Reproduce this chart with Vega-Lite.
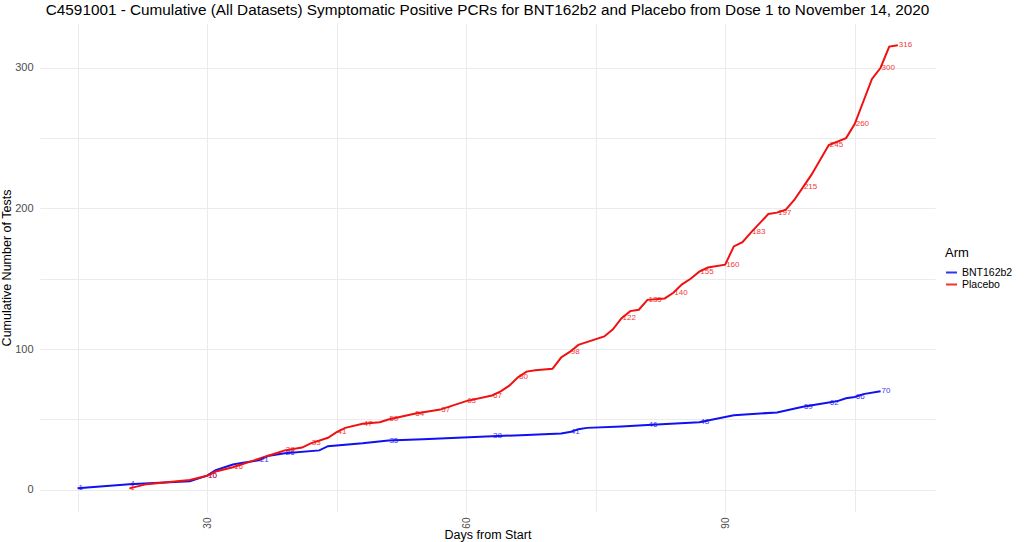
{
  "$schema": "https://vega.github.io/schema/vega-lite/v6.json",
  "width": 895,
  "height": 489,
  "autosize": {"type": "none"},
  "padding": {"left": 40, "top": 23, "right": 89, "bottom": 30},
  "config": {"view": {"stroke": null}, "font": "Liberation Sans"},
  "title": {
    "text": "C4591001 - Cumulative (All Datasets) Symptomatic Positive PCRs for BNT162b2 and Placebo from Dose 1 to November 14, 2020",
    "fontSize": 15.3,
    "fontWeight": "normal",
    "font": "Liberation Sans",
    "color": "#000000",
    "anchor": "middle",
    "frame": "group",
    "offset": 5
  },
  "data": {
    "values": [
      {"arm": "BNT162b2", "day": 15, "n": 1, "lab": "1"},
      {"arm": "BNT162b2", "day": 21, "n": 4, "lab": "4"},
      {"arm": "BNT162b2", "day": 28, "n": 6, "lab": ""},
      {"arm": "BNT162b2", "day": 30, "n": 10, "lab": "10"},
      {"arm": "BNT162b2", "day": 31, "n": 14, "lab": ""},
      {"arm": "BNT162b2", "day": 33, "n": 18, "lab": ""},
      {"arm": "BNT162b2", "day": 34, "n": 19, "lab": ""},
      {"arm": "BNT162b2", "day": 36, "n": 21, "lab": "21"},
      {"arm": "BNT162b2", "day": 37, "n": 24, "lab": ""},
      {"arm": "BNT162b2", "day": 39, "n": 26, "lab": "26"},
      {"arm": "BNT162b2", "day": 43, "n": 28, "lab": ""},
      {"arm": "BNT162b2", "day": 44, "n": 31, "lab": ""},
      {"arm": "BNT162b2", "day": 48, "n": 33, "lab": ""},
      {"arm": "BNT162b2", "day": 51, "n": 35, "lab": "35"},
      {"arm": "BNT162b2", "day": 55, "n": 36, "lab": ""},
      {"arm": "BNT162b2", "day": 59, "n": 37, "lab": ""},
      {"arm": "BNT162b2", "day": 63, "n": 38, "lab": "38"},
      {"arm": "BNT162b2", "day": 67, "n": 39, "lab": ""},
      {"arm": "BNT162b2", "day": 71, "n": 40, "lab": ""},
      {"arm": "BNT162b2", "day": 72, "n": 41, "lab": "41"},
      {"arm": "BNT162b2", "day": 73, "n": 43, "lab": ""},
      {"arm": "BNT162b2", "day": 74, "n": 44, "lab": ""},
      {"arm": "BNT162b2", "day": 78, "n": 45, "lab": ""},
      {"arm": "BNT162b2", "day": 81, "n": 46, "lab": "46"},
      {"arm": "BNT162b2", "day": 87, "n": 48, "lab": "48"},
      {"arm": "BNT162b2", "day": 91, "n": 53, "lab": ""},
      {"arm": "BNT162b2", "day": 96, "n": 55, "lab": ""},
      {"arm": "BNT162b2", "day": 99, "n": 59, "lab": "59"},
      {"arm": "BNT162b2", "day": 102, "n": 62, "lab": "62"},
      {"arm": "BNT162b2", "day": 103, "n": 63, "lab": ""},
      {"arm": "BNT162b2", "day": 104, "n": 65, "lab": ""},
      {"arm": "BNT162b2", "day": 105, "n": 66, "lab": "66"},
      {"arm": "BNT162b2", "day": 106, "n": 68, "lab": ""},
      {"arm": "BNT162b2", "day": 108, "n": 70, "lab": "70"},
      {"arm": "Placebo", "day": 21, "n": 1, "lab": "1"},
      {"arm": "Placebo", "day": 23, "n": 4, "lab": ""},
      {"arm": "Placebo", "day": 28, "n": 7, "lab": ""},
      {"arm": "Placebo", "day": 30, "n": 10, "lab": "10"},
      {"arm": "Placebo", "day": 31, "n": 13, "lab": ""},
      {"arm": "Placebo", "day": 33, "n": 16, "lab": "16"},
      {"arm": "Placebo", "day": 35, "n": 20, "lab": ""},
      {"arm": "Placebo", "day": 37, "n": 24, "lab": ""},
      {"arm": "Placebo", "day": 38, "n": 26, "lab": ""},
      {"arm": "Placebo", "day": 39, "n": 28, "lab": "28"},
      {"arm": "Placebo", "day": 41, "n": 30, "lab": ""},
      {"arm": "Placebo", "day": 42, "n": 33, "lab": "33"},
      {"arm": "Placebo", "day": 44, "n": 37, "lab": ""},
      {"arm": "Placebo", "day": 45, "n": 41, "lab": "41"},
      {"arm": "Placebo", "day": 46, "n": 44, "lab": ""},
      {"arm": "Placebo", "day": 48, "n": 47, "lab": "47"},
      {"arm": "Placebo", "day": 50, "n": 48, "lab": ""},
      {"arm": "Placebo", "day": 51, "n": 50, "lab": "50"},
      {"arm": "Placebo", "day": 54, "n": 54, "lab": "54"},
      {"arm": "Placebo", "day": 57, "n": 57, "lab": "57"},
      {"arm": "Placebo", "day": 60, "n": 63, "lab": "63"},
      {"arm": "Placebo", "day": 63, "n": 67, "lab": "67"},
      {"arm": "Placebo", "day": 64, "n": 70, "lab": ""},
      {"arm": "Placebo", "day": 65, "n": 74, "lab": ""},
      {"arm": "Placebo", "day": 66, "n": 80, "lab": "80"},
      {"arm": "Placebo", "day": 67, "n": 84, "lab": ""},
      {"arm": "Placebo", "day": 68, "n": 85, "lab": ""},
      {"arm": "Placebo", "day": 70, "n": 86, "lab": ""},
      {"arm": "Placebo", "day": 71, "n": 94, "lab": ""},
      {"arm": "Placebo", "day": 72, "n": 98, "lab": "98"},
      {"arm": "Placebo", "day": 73, "n": 103, "lab": ""},
      {"arm": "Placebo", "day": 76, "n": 109, "lab": ""},
      {"arm": "Placebo", "day": 77, "n": 114, "lab": ""},
      {"arm": "Placebo", "day": 78, "n": 122, "lab": "122"},
      {"arm": "Placebo", "day": 79, "n": 127, "lab": ""},
      {"arm": "Placebo", "day": 80, "n": 128, "lab": ""},
      {"arm": "Placebo", "day": 81, "n": 135, "lab": "135"},
      {"arm": "Placebo", "day": 83, "n": 136, "lab": ""},
      {"arm": "Placebo", "day": 84, "n": 140, "lab": "140"},
      {"arm": "Placebo", "day": 85, "n": 146, "lab": ""},
      {"arm": "Placebo", "day": 86, "n": 150, "lab": ""},
      {"arm": "Placebo", "day": 87, "n": 155, "lab": "155"},
      {"arm": "Placebo", "day": 88, "n": 158, "lab": ""},
      {"arm": "Placebo", "day": 90, "n": 160, "lab": "160"},
      {"arm": "Placebo", "day": 91, "n": 173, "lab": ""},
      {"arm": "Placebo", "day": 92, "n": 176, "lab": ""},
      {"arm": "Placebo", "day": 93, "n": 183, "lab": "183"},
      {"arm": "Placebo", "day": 95, "n": 196, "lab": ""},
      {"arm": "Placebo", "day": 96, "n": 197, "lab": "197"},
      {"arm": "Placebo", "day": 97, "n": 199, "lab": ""},
      {"arm": "Placebo", "day": 98, "n": 206, "lab": ""},
      {"arm": "Placebo", "day": 99, "n": 215, "lab": "215"},
      {"arm": "Placebo", "day": 100, "n": 224, "lab": ""},
      {"arm": "Placebo", "day": 102, "n": 245, "lab": "245"},
      {"arm": "Placebo", "day": 104, "n": 250, "lab": ""},
      {"arm": "Placebo", "day": 105, "n": 260, "lab": "260"},
      {"arm": "Placebo", "day": 106, "n": 276, "lab": ""},
      {"arm": "Placebo", "day": 107, "n": 292, "lab": ""},
      {"arm": "Placebo", "day": 108, "n": 300, "lab": "300"},
      {"arm": "Placebo", "day": 109, "n": 315, "lab": ""},
      {"arm": "Placebo", "day": 110, "n": 316, "lab": "316"}
    ]
  },
  "encoding": {
    "x": {
      "field": "day",
      "type": "quantitative",
      "scale": {"domain": [10.65, 114.3], "nice": false, "zero": false},
      "axis": {
        "title": "Days from Start",
        "values": [15, 30, 45, 60, 75, 90, 105],
        "labelExpr": "datum.value % 30 == 0 ? datum.label : ''",
        "labelAngle": 270,
        "labelAlign": "right",
        "labelBaseline": "middle",
        "labelPadding": 5,
        "labelFontSize": 10,
        "labelColor": "#4d4d4d",
        "ticks": false,
        "domain": false,
        "gridColor": "#ebebeb",
        "titleFontSize": 12.5,
        "titleFontWeight": "normal",
        "titleColor": "#000000",
        "titlePadding": 0
      }
    },
    "y": {
      "field": "n",
      "type": "quantitative",
      "scale": {"domain": [-15.8, 331.8], "nice": false, "zero": false},
      "axis": {
        "title": "Cumulative Number of Tests",
        "values": [0, 50, 100, 150, 200, 250, 300],
        "labelExpr": "datum.value % 100 == 0 ? datum.label : ''",
        "labelPadding": 7,
        "labelFontSize": 11,
        "labelColor": "#4d4d4d",
        "ticks": false,
        "domain": false,
        "gridColor": "#ebebeb",
        "titleFontSize": 12.5,
        "titleFontWeight": "normal",
        "titleColor": "#000000",
        "titlePadding": 1
      }
    },
    "color": {
      "field": "arm",
      "type": "nominal",
      "scale": {"domain": ["BNT162b2", "Placebo"], "range": ["#1010f0", "#f01010"]},
      "legend": {
        "orient": "none",
        "legendX": 905,
        "legendY": 224,
        "title": "Arm",
        "titleFontSize": 13,
        "titleFontWeight": "normal",
        "titleColor": "#000000",
        "titlePadding": 6,
        "labelFontSize": 10.5,
        "labelColor": "#000000",
        "symbolType": "stroke",
        "symbolStrokeWidth": 2,
        "symbolSize": 120,
        "rowPadding": 0
      }
    }
  },
  "layer": [
    {"mark": {"type": "line", "strokeWidth": 2}},
    {
      "transform": [{"filter": "datum.lab != ''"}],
      "mark": {"type": "text", "align": "left", "baseline": "middle", "dx": 1, "fontSize": 8, "opacity": 0.85},
      "encoding": {"text": {"field": "lab"}}
    }
  ]
}
